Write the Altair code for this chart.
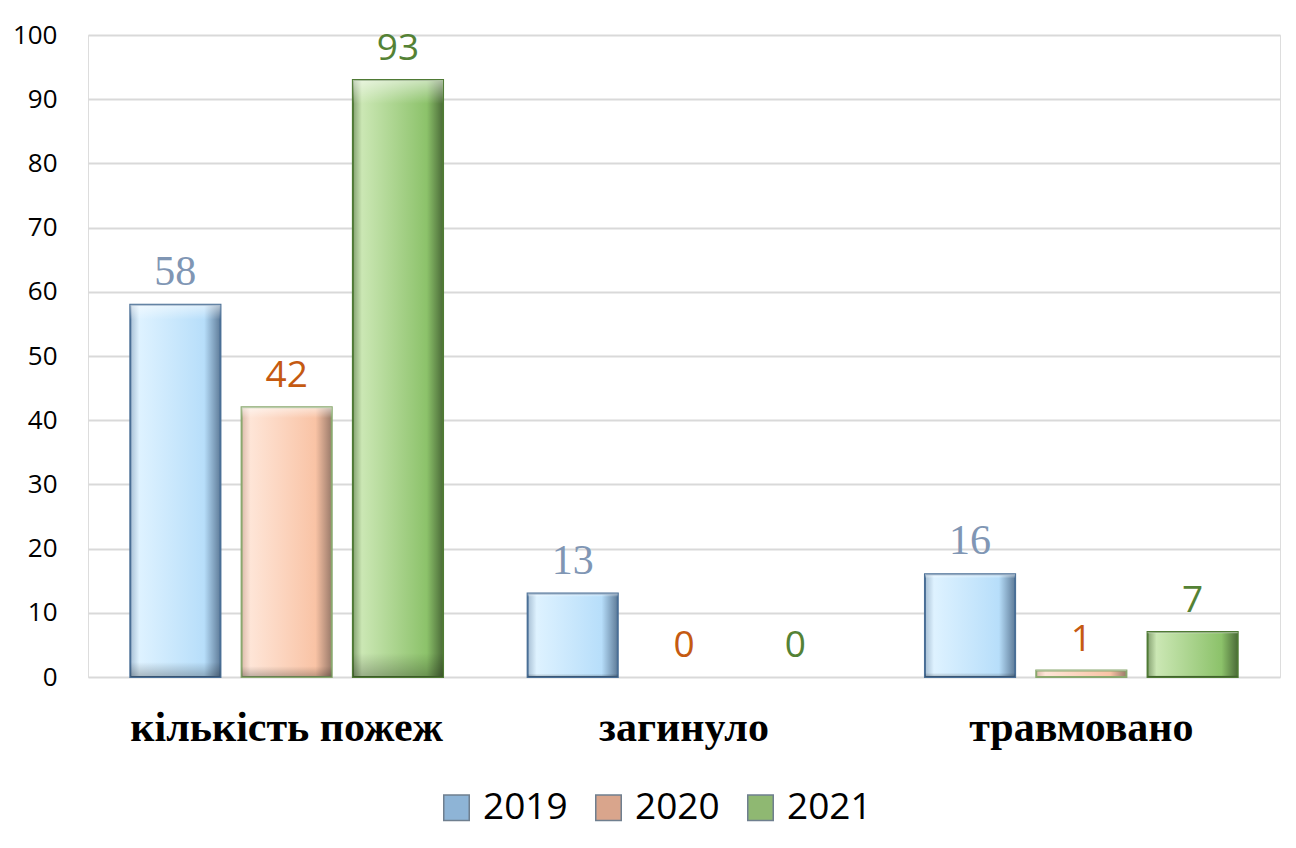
import altair as alt
import pandas as pd

categories = ["кількість пожеж", "загинуло", "травмовано"]
years = ["2019", "2020", "2021"]
v2019 = [58, 13, 16]
v2020 = [42, 0, 1]
v2021 = [93, 0, 7]

rows = []
for yr, vals in zip(years, [v2019, v2020, v2021]):
    for c, v in zip(categories, vals):
        rows.append({"cat": c, "year": yr, "value": v})
df = pd.DataFrame(rows)

def hgrad(edge_l, light, mid, edge_r):
    return alt.Gradient(gradient="linear", x1=0, x2=1, y1=0, y2=0, stops=[
        alt.GradientStop(color=edge_l, offset=0),
        alt.GradientStop(color=light, offset=0.1),
        alt.GradientStop(color=mid, offset=0.82),
        alt.GradientStop(color=edge_r, offset=1)])

fills = {
    "2019": hgrad("#a7bfd4", "#def2ff", "#b7defa", "#5f7c99"),
    "2020": hgrad("#dcbcac", "#fee5d7", "#f9c3a5", "#9a7a6a"),
    "2021": hgrad("#86a272", "#cbe7b4", "#8cc26a", "#4b6b38"),
}
bevel = alt.Gradient(gradient="linear", x1=0, x2=0, y1=0, y2=1, stops=[
    alt.GradientStop(color="rgba(255,255,255,0.55)", offset=0),
    alt.GradientStop(color="rgba(255,255,255,0)", offset=0.04),
    alt.GradientStop(color="rgba(0,0,0,0)", offset=0.96),
    alt.GradientStop(color="rgba(0,0,0,0.25)", offset=1)])
strokes = {"2019": "#4a6f96", "2020": "#8aa86e", "2021": "#4f7a35"}
label_colors = {"2019": "#8096b4", "2020": "#c55a11", "2021": "#548235"}
label_fonts = {"2019": "Liberation Serif", "2020": "Open Sans", "2021": "Open Sans"}
label_sizes = {"2019": 42, "2020": 37, "2021": 37}
legend_colors = ["#8eb4d6", "#d9a58c", "#8fb872"]

base = alt.Chart(df).encode(
    x=alt.X("cat:N", sort=categories, title=None,
            scale=alt.Scale(paddingInner=0, paddingOuter=0),
            axis=alt.Axis(labelAngle=0, labelFont="Liberation Serif", labelFontWeight="bold",
                          labelFontSize=42, labelColor="#000000", labelPadding=30,
                          labelLimit=0, ticks=False, domain=False, grid=False)),
    xOffset=alt.XOffset("year:N", sort=years,
                        scale=alt.Scale(domain=years, paddingInner=0.19, paddingOuter=0.38)),
    y=alt.Y("value:Q", title=None,
            scale=alt.Scale(domain=[0, 100]),
            axis=alt.Axis(values=list(range(0, 101, 10)), labelFont="Open Sans",
                          labelFontSize=26, labelColor="#000000", labelPadding=31,
                          ticks=False, domain=False, gridColor="#d9d9d9", gridWidth=2)),
)

layers = []
for yr in years:
    sub = base.transform_filter((alt.datum.year == yr) & (alt.datum.value > 0))
    layers.append(sub.mark_bar(fill=fills[yr], stroke=strokes[yr], strokeWidth=2))
    layers.append(sub.mark_bar(fill=bevel, strokeWidth=0))
for yr in years:
    sub = base.transform_filter(alt.datum.year == yr)
    layers.append(sub.mark_text(font=label_fonts[yr], fontSize=label_sizes[yr],
                                color=label_colors[yr], baseline="alphabetic", dy=-20)
                  .encode(text=alt.Text("value:Q")))

legend_layer = base.mark_text(text="").encode(
    fill=alt.Fill("year:N", sort=years, title=None,
                  scale=alt.Scale(domain=years, range=legend_colors),
                  legend=alt.Legend(orient="none", direction="horizontal",
                                    legendX=350, legendY=754,
                                    symbolType="square", symbolSize=650,
                                    symbolStrokeColor="#6f7f8f", symbolStrokeWidth=1.5,
                                    symbolOpacity=1,
                                    labelFont="Open Sans", labelFontSize=37,
                                    labelColor="#000000", columnPadding=22,
                                    labelOffset=8))
)

chart = alt.layer(*layers, legend_layer).properties(
    width=1192, height=642,
    padding={"left": 4, "top": 14, "right": 8, "bottom": 8},
).configure_view(stroke=None).configure(background="white")

chart.save("out.html", embed_options={"renderer": "svg", "actions": False})
